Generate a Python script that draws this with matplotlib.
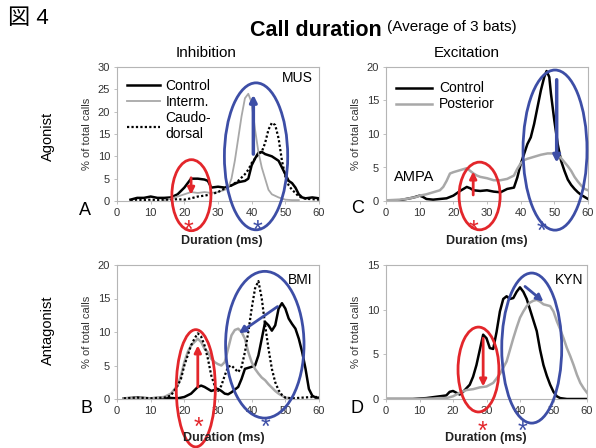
import matplotlib
matplotlib.use('Agg')
import matplotlib.pyplot as plt
from matplotlib.patches import Ellipse

plt.rcParams['font.family'] = ['Liberation Sans', 'Noto Sans CJK JP', 'DejaVu Sans']

# ---- data ----
# Panel A: Inhibition / Agonist (MUS)
a_ctrl_x = [4, 6, 8, 10, 12, 14, 16, 18, 20, 22, 24, 26, 27, 28, 30, 32, 34, 36, 38, 39, 40, 41, 42, 43, 44,
            46, 48, 49, 50, 51, 52, 53, 54, 55, 56, 58, 60]
a_ctrl_y = [0.3, 0.7, 0.7, 1.0, 0.7, 0.7, 0.8, 1.5, 3.0, 5.0, 5.0, 4.8, 4.5, 3.0, 3.2, 3.0, 3.5, 4.2, 4.5, 5.0,
            8.0, 9.5, 10.8, 11.0, 10.5, 10.0, 9.0, 7.5, 6.0, 4.5, 4.0, 3.0, 1.5, 0.8, 0.6, 0.8, 0.6]
a_int_x = [14, 16, 18, 20, 22, 24, 26, 28, 30, 32, 33, 34, 35, 36, 37, 38, 39, 40, 41, 42, 43, 44, 45, 46,
           48, 50, 52, 54]
a_int_y = [0.2, 0.5, 1.0, 1.5, 2.0, 1.8, 2.0, 1.8, 2.0, 2.5, 3.0, 5.0, 9.0, 14.0, 19.0, 23.0, 24.0, 22.0,
           16.0, 11.0, 7.5, 5.0, 2.5, 1.5, 0.8, 0.3, 0.2, 0.2]
a_cd_x = [4, 6, 8, 10, 12, 14, 16, 18, 20, 22, 24, 26, 28, 30, 32, 34, 36, 38, 39, 40, 41, 42, 43, 44, 45,
          46, 47, 48, 49, 50, 51, 52, 53, 54, 56, 58, 60]
a_cd_y = [0.2, 0.3, 0.2, 0.3, 0.2, 0.3, 0.3, 0.4, 0.3, 0.6, 1.0, 1.2, 1.5, 2.0, 2.8, 3.5, 4.5, 6.0, 7.0, 8.5,
          9.5, 10.5, 11.0, 13.0, 16.0, 17.5, 17.0, 14.0, 9.0, 5.5, 3.5, 2.5, 1.8, 1.0, 0.5, 0.4, 0.3]

# Panel B: Inhibition / Antagonist (BMI)
b_ctrl_x = [2, 6, 10, 14, 18, 20, 22, 24, 25, 26, 28, 30, 31, 32, 33, 34, 36, 37, 38, 40, 41, 42, 43, 44,
            45, 46, 47, 48, 49, 50, 51, 52, 53, 54, 55, 56, 57, 58, 59, 60]
b_ctrl_y = [0.1, 0.2, 0.1, 0.2, 0.1, 0.3, 0.8, 1.8, 2.0, 1.8, 1.2, 1.5, 1.2, 0.8, 0.7, 1.0, 1.8, 3.0, 4.5,
            4.8, 5.0, 6.5, 9.0, 11.5, 11.0, 10.2, 11.0, 13.5, 14.3, 13.5, 12.0, 11.2, 10.5, 9.0, 7.0, 4.5,
            1.5, 0.5, 0.2, 0.2]
b_int_x = [2, 6, 10, 12, 14, 16, 18, 19, 20, 21, 22, 23, 24, 25, 26, 27, 28, 29, 30, 31, 32, 33, 34, 35,
           36, 37, 38, 39, 40, 41, 42, 43, 44, 45, 46, 47, 48, 49, 50, 52]
b_int_y = [0.1, 0.1, 0.1, 0.2, 0.3, 0.8, 2.0, 3.5, 5.5, 7.0, 8.0, 8.5, 9.0, 8.5, 7.5, 7.0, 6.0, 5.5, 5.2,
           5.0, 5.5, 7.5, 9.5, 10.3, 10.5, 10.0, 9.0, 7.0, 5.5, 4.5, 3.8, 3.2, 2.8, 2.2, 1.7, 1.2, 0.8,
           0.5, 0.2, 0.1]
b_cd_x = [2, 6, 10, 14, 16, 18, 19, 20, 21, 22, 23, 24, 25, 26, 27, 28, 29, 30, 31, 32, 33, 34, 35, 36,
          37, 38, 39, 40, 41, 42, 43, 44, 45, 46, 47, 48, 49, 50, 52, 55, 58, 60]
b_cd_y = [0.1, 0.2, 0.1, 0.2, 0.5, 2.0, 3.0, 5.0, 6.5, 8.0, 9.0, 9.8, 9.3, 8.0, 6.0, 3.5, 2.0, 1.2, 2.0,
          3.5, 4.8, 5.0, 4.5, 4.0, 4.8, 7.0, 10.0, 13.5, 16.5, 17.6, 15.0, 11.0, 7.5, 4.5, 2.5, 1.3, 0.6,
          0.2, 0.1, 0.2, 0.3, 0.3]

# Panel C: Excitation / Agonist (AMPA)
c_ctrl_x = [1, 4, 6, 8, 10, 11, 12, 14, 16, 18, 20, 22, 24, 25, 26, 28, 30, 32, 34, 36, 38, 39, 40, 41,
            42, 43, 44, 45, 46, 47, 47.7, 48.5, 49, 50, 51, 52, 53, 54, 55, 56, 57, 58, 59, 60]
c_ctrl_y = [0.0, 0.1, 0.3, 0.5, 0.8, 0.6, 0.3, 0.2, 0.3, 0.4, 0.8, 1.5, 2.1, 1.9, 1.6, 1.5, 1.6, 1.4, 1.3,
            1.8, 2.0, 3.5, 5.5, 7.0, 8.5, 9.5, 11.5, 14.0, 16.5, 18.5, 19.4, 18.5, 16.0, 12.0, 8.5, 6.0,
            4.5, 3.2, 2.4, 1.8, 1.3, 0.9, 0.6, 0.3]
c_post_x = [0, 4, 6, 8, 9, 10, 12, 14, 16, 17, 18, 19, 20, 22, 24, 25, 26, 27, 28, 30, 32, 34, 36, 38, 39,
            40, 41, 42, 44, 46, 48, 50, 51, 52, 53, 54, 55, 56, 57, 58, 59, 60]
c_post_y = [0.1, 0.2, 0.3, 0.5, 0.6, 0.8, 1.0, 1.3, 1.6, 2.1, 3.0, 4.1, 4.3, 4.6, 4.9, 4.5, 4.1, 3.8, 3.6,
            3.4, 3.1, 3.1, 3.3, 3.8, 4.8, 5.6, 6.1, 6.3, 6.6, 6.9, 7.1, 7.1, 6.9, 6.4, 5.8, 5.2, 4.5, 3.6,
            2.9, 2.3, 1.8, 1.6]

# Panel D: Excitation / Antagonist (KYN)
d_ctrl_x = [0, 4, 8, 10, 12, 14, 16, 18, 19, 20, 21, 22, 23, 24, 25, 26, 27, 28, 29, 30, 31, 32, 33, 34,
            35, 36, 37, 38, 39, 40, 41, 42, 43, 44, 45, 46, 47, 48, 49, 50, 51, 52, 54, 60]
d_ctrl_y = [0.0, 0.0, 0.0, 0.05, 0.1, 0.2, 0.3, 0.4, 0.8, 0.9, 0.7, 0.5, 0.8, 1.2, 1.6, 2.5, 3.8, 5.5,
            7.2, 6.8, 5.7, 5.6, 7.5, 9.8, 11.2, 11.5, 11.2, 11.3, 12.0, 12.5, 12.0, 11.2, 10.0, 8.8, 7.6,
            5.5, 3.8, 2.6, 1.6, 0.8, 0.3, 0.1, 0.0, 0.0]
d_post_x = [0, 10, 14, 16, 18, 20, 22, 24, 26, 27, 28, 30, 32, 33, 34, 35, 36, 37, 38, 39, 40, 41, 42,
            43, 44, 45, 46, 47, 48, 49, 50, 51, 52, 53, 54, 55, 56, 57, 58, 59, 60]
d_post_y = [0.0, 0.0, 0.05, 0.1, 0.1, 0.3, 0.7, 1.0, 1.1, 1.2, 1.3, 1.4, 1.8, 2.3, 2.8, 3.5, 4.2, 5.5,
            6.8, 8.0, 9.1, 9.8, 10.4, 10.8, 11.0, 11.1, 10.9, 10.6, 10.5, 10.4, 9.8, 8.7, 7.8, 6.8, 5.7,
            4.8, 3.8, 2.7, 1.8, 1.2, 0.7]

x_ticks = [0, 10, 20, 30, 40, 50, 60]
RED = '#e3262b'
BLUE = '#3d4ea6'
GRAY = '#a8a8a8'

W, H = 596, 448
fig = plt.figure(figsize=(W / 100, H / 100), dpi=100)


def px_axes(left, top, right, bottom):
    return fig.add_axes([left / W, 1 - bottom / H, (right - left) / W, (bottom - top) / H])


def fig_text(x, y, s, **kw):
    fig.text(x / W, 1 - y / H, s, **kw)


def style(ax, ymax):
    ax.set_xlim(0, 60)
    ax.set_ylim(0, ymax)
    ax.set_xticks(x_ticks)
    ax.set_yticks(range(0, ymax + 1, 5))
    for sp in ax.spines.values():
        sp.set_color('#b5b5b5')
        sp.set_linewidth(0.8)
    ax.tick_params(labelsize=8, colors='#b5b5b5', labelcolor='#333333', length=2, width=0.6, pad=3)
    ax.set_ylabel('% of total calls', fontsize=8, color='#333333', labelpad=4)


def ring(ax, cx, cy, w, h, color):
    ax.add_patch(Ellipse((cx, cy), w, h, fill=False, edgecolor=color, linewidth=2, clip_on=False, zorder=5))


def arrow(ax, x0, y0, x1, y1, color, lw=2):
    ax.annotate('', xy=(x1, y1), xytext=(x0, y0),
                arrowprops=dict(arrowstyle='-|>', color=color, lw=lw, mutation_scale=10,
                                shrinkA=0, shrinkB=0), zorder=6)


# A
axA = px_axes(117, 67, 319, 201)
axA.plot(a_ctrl_x, a_ctrl_y, color='black', lw=1.8, label='Control')
axA.plot(a_int_x, a_int_y, color=GRAY, lw=1.3, label='Interm.')
axA.plot(a_cd_x, a_cd_y, color='black', lw=1.6, ls=(0, (1, 1)), label='Caudo-\ndorsal')
style(axA, 30)
axA.legend(loc='upper left', bbox_to_anchor=(0.0, 0.985), frameon=False, fontsize=10,
           handlelength=2.4, handletextpad=0.4, labelspacing=0.15, borderaxespad=0.3)
axA.text(0.97, 0.97, 'MUS', transform=axA.transAxes, ha='right', va='top', fontsize=10)
ring(axA, 22.1, 1.3, 11.6, 15.9, RED)
arrow(axA, 22, 5.2, 22, 1.4, RED)
ring(axA, 41.3, 10.0, 18.8, 32.9, BLUE)
arrow(axA, 40.5, 10.5, 40.5, 23.8, BLUE, lw=2.5)

# B
axB = px_axes(117, 265, 319, 399)
axB.plot(b_ctrl_x, b_ctrl_y, color='black', lw=1.8)
axB.plot(b_int_x, b_int_y, color=GRAY, lw=1.8)
axB.plot(b_cd_x, b_cd_y, color='black', lw=1.6, ls=(0, (1, 1)))
style(axB, 20)
axB.text(0.97, 0.94, 'BMI', transform=axB.transAxes, ha='right', va='top', fontsize=10)
ring(axB, 23.4, 1.6, 11.6, 17.5, RED)
arrow(axB, 24.0, 1.8, 24.0, 8.0, RED)
ring(axB, 43.9, 8.1, 23.3, 21.9, BLUE)
arrow(axB, 47.7, 13.8, 36.2, 9.8, BLUE)

# C
axC = px_axes(386, 67, 588, 201)
axC.plot(c_ctrl_x, c_ctrl_y, color='black', lw=1.8, label='Control')
axC.plot(c_post_x, c_post_y, color=GRAY, lw=1.8, label='Posterior')
style(axC, 20)
axC.legend(loc='upper left', bbox_to_anchor=(0.0, 0.965), frameon=False, fontsize=10,
           handlelength=2.6, handletextpad=0.5, labelspacing=0.15, borderaxespad=0.3)
axC.text(2.5, 3.6, 'AMPA', ha='left', va='center', fontsize=10.5)
ring(axC, 27.8, 0.75, 12.2, 10.1, RED)
arrow(axC, 25.9, 0.9, 25.9, 4.4, RED)
ring(axC, 50.2, 7.6, 19.0, 23.9, BLUE)
arrow(axC, 50.7, 18.1, 50.7, 5.7, BLUE, lw=2.5)

# D
axD = px_axes(386, 265, 587, 399)
axD.plot(d_ctrl_x, d_ctrl_y, color='black', lw=1.8)
axD.plot(d_post_x, d_post_y, color=GRAY, lw=1.8)
style(axD, 15)
axD.text(0.98, 0.94, 'KYN', transform=axD.transAxes, ha='right', va='top', fontsize=10)
ring(axD, 27.6, 3.3, 12.2, 9.5, RED)
arrow(axD, 29.0, 6.8, 29.0, 1.4, RED)
ring(axD, 43.5, 5.7, 17.9, 16.8, BLUE)
arrow(axD, 41.5, 12.6, 47.0, 10.9, BLUE)

# figure texts
fig_text(8, 19, '図 4', fontsize=16, va='center', ha='left')
fig_text(250, 30, 'Call duration', fontsize=15.5, fontweight='bold', va='center', ha='left')
fig_text(387, 27, '(Average of 3 bats)', fontsize=11, va='center', ha='left')
fig_text(206, 53, 'Inhibition', fontsize=11, ha='center', va='center')
fig_text(467, 53, 'Excitation', fontsize=11, ha='center', va='center')
fig_text(48, 136, 'Agonist', fontsize=10.5, rotation=90, ha='center', va='center')
fig_text(48, 330, 'Antagonist', fontsize=10.5, rotation=90, ha='center', va='center')
for x, y, s in [(85, 210, 'A'), (87, 408, 'B'), (358, 208, 'C'), (357, 408, 'D')]:
    fig_text(x, y, s, fontsize=13, ha='center', va='center')
for x, y in [(222, 241), (224, 438), (487, 241), (486, 438)]:
    fig_text(x, y, 'Duration (ms)', fontsize=9, fontweight='bold', ha='center', va='center', color='#222222')
for x, y, c in [(188, 227, RED), (257, 227, BLUE), (198, 424, RED), (265, 424, BLUE),
                (473, 227, RED), (541, 228, BLUE), (482, 428, RED), (522, 428, BLUE)]:
    fig_text(x, y + 4, '*', fontsize=18, ha='center', va='center', color=c)

plt.savefig('out.png', dpi=100)
